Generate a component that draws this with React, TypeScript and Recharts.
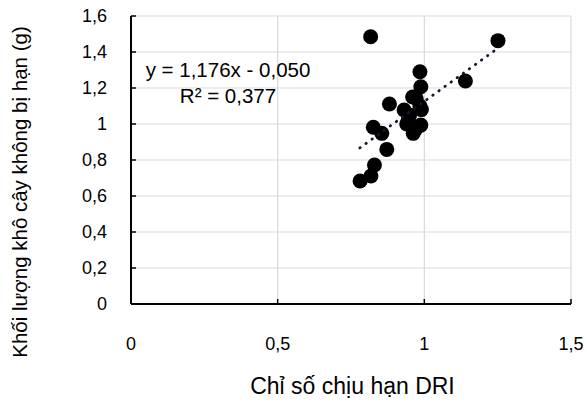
import React from 'react';
import { ScatterChart, Scatter, XAxis, YAxis, CartesianGrid } from 'recharts';

// Chỉ số chịu hạn DRI (x) vs khối lượng khô cây không bị hạn (y)
const driValues = [
  0.817, 1.251, 0.985, 1.14, 0.988, 0.972, 0.985, 0.881, 0.931, 0.945, 0.988, 0.962,
  0.826, 0.855, 0.872, 0.83, 0.818, 0.781, 0.96, 0.99, 0.95, 0.97, 0.94,
];
const dryMass = [
  1.485, 1.463, 1.29, 1.239, 1.207, 1.143, 1.1, 1.111, 1.078, 1.022, 0.994, 0.948,
  0.982, 0.948, 0.859, 0.772, 0.711, 0.683, 1.15, 1.08, 1.05, 0.97, 1.0,
];

// đường xu hướng tuyến tính (đầu và cuối)
const trendX = [0.78, 1.25];
const trendY = [0.867, 1.42];

const xTicks = [0, 0.5, 1, 1.5];
const yTicks = [0, 0.2, 0.4, 0.6, 0.8, 1, 1.2, 1.4, 1.6];

const points = driValues.map((x, i) => ({ x, y: dryMass[i] }));
const trend = trendX.map((x, i) => ({ x, y: trendY[i] }));

const fmt = (v: number) => String(v).replace('.', ',');
const font = '"Liberation Sans", Arial, sans-serif';

export default function App() {
  return (
    <div style={{ position: 'absolute', left: 0, top: 0, width: 587, height: 405, fontFamily: font }}>
      <ScatterChart width={587} height={405} margin={{ top: 16, right: 16, bottom: 0, left: 0 }}>
        <CartesianGrid stroke="#d9d9d9" strokeWidth={1.2} />
        <XAxis
          type="number"
          dataKey="x"
          domain={[0, 1.5]}
          ticks={xTicks}
          tickFormatter={fmt}
          height={101}
          tickSize={-5}
          tickMargin={38}
          axisLine={{ stroke: '#000', strokeWidth: 2 }}
          tickLine={{ stroke: '#000', strokeWidth: 1.5 }}
          tick={{ fill: '#000', fontSize: 18, fontFamily: font }}
        />
        <YAxis
          type="number"
          dataKey="y"
          domain={[0, 1.6]}
          ticks={yTicks}
          tickFormatter={fmt}
          width={131}
          tickSize={-5}
          tickMargin={29}
          axisLine={{ stroke: '#000', strokeWidth: 2 }}
          tickLine={{ stroke: '#000', strokeWidth: 1.5 }}
          tick={{ fill: '#000', fontSize: 18, fontFamily: font }}
        />
        <Scatter
          data={points}
          isAnimationActive={false}
          shape={(p: any) => <circle cx={p.cx} cy={p.cy} r={7.5} fill="#000" />}
        />
        <Scatter
          data={trend}
          isAnimationActive={false}
          line={{ stroke: '#111a33', strokeWidth: 2.8, strokeDasharray: '0.5 7', strokeLinecap: 'round' }}
          shape={() => <g />}
        />
      </ScatterChart>
      <svg width={587} height={405} style={{ position: 'absolute', left: 0, top: 0, pointerEvents: 'none' }}>
        <text x={228} y={76.5} textAnchor="middle" fontSize={20.5} fill="#000" fontFamily={font}>
          y = 1,176x - 0,050
        </text>
        <text x={228} y={103} textAnchor="middle" fontSize={20.5} fill="#000" fontFamily={font}>
          R² = 0,377
        </text>
        <text x={352.5} y={394} textAnchor="middle" fontSize={23} fill="#000" fontFamily={font}>
          Chỉ số chịu hạn DRI
        </text>
        <text
          x={27}
          y={192}
          textAnchor="middle"
          fontSize={20.5}
          fill="#000"
          fontFamily={font}
          transform="rotate(-90 27 192)"
        >
          Khối lượng khô cây không bị hạn (g)
        </text>
      </svg>
    </div>
  );
}
